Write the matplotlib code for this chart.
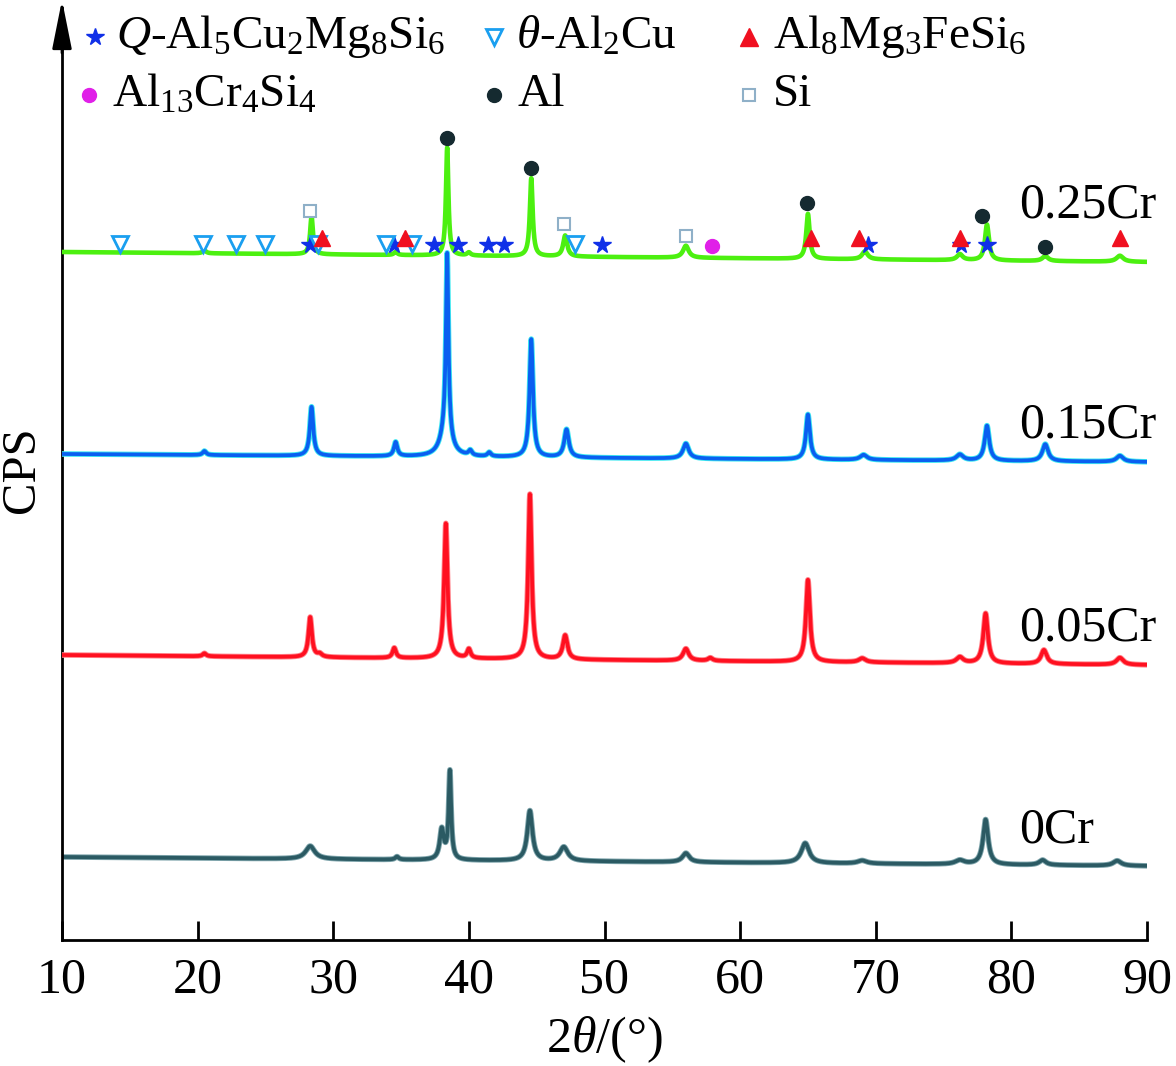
import numpy as np
import matplotlib
matplotlib.use("Agg")
import matplotlib.pyplot as plt

plt.rcParams['font.family'] = ['Liberation Serif', 'DejaVu Serif']
plt.rcParams['mathtext.fontset'] = 'custom'
plt.rcParams['mathtext.rm'] = 'Liberation Serif'
plt.rcParams['mathtext.it'] = 'Liberation Serif:italic'
plt.rcParams['mathtext.fallback'] = 'stix'

# ---------------- data (2theta in degrees, intensity in arbitrary CPS units) ----------------
samples = ['0Cr', '0.05Cr', '0.15Cr', '0.25Cr']
sample_colors = ['#2b5a63', '#ff1020', '#0a5ff0', '#4cf010']
edge_colors = ['#7fa5ac', '#ff8088', '#3fe8f0', '#4cf010']
baseline_left = [83, 285, 486, 688]
baseline_right = [74, 275, 478, 678]

# peaks: (position, height above baseline, FWHM)
peaks_0Cr = [(28.3, 13, 0.8), (34.7, 3, 0.3), (38.0, 30, 0.35), (38.6, 88, 0.22),
             (44.5, 50, 0.45), (47.0, 14, 0.7), (56.0, 9, 0.6), (64.8, 20, 0.7),
             (69.0, 3, 0.8), (76.2, 4, 0.8), (78.1, 45, 0.45), (82.3, 5, 0.6), (87.8, 5, 0.7)]
peaks_005Cr = [(20.5, 3, 0.3), (28.3, 40, 0.3), (29.0, 3, 0.4), (34.5, 10, 0.3),
               (38.3, 135, 0.3), (40.0, 9, 0.3), (44.5, 165, 0.3), (47.1, 24, 0.4),
               (56.0, 12, 0.5), (57.8, 3, 0.4), (65.0, 82, 0.35), (69.0, 4, 0.6),
               (76.2, 6, 0.6), (78.1, 50, 0.4), (82.4, 14, 0.5), (88.0, 7, 0.6)]
peaks_015Cr = [(20.5, 4, 0.3), (28.4, 49, 0.3), (34.6, 14, 0.3), (38.3, 25, 0.9),
               (38.4, 180, 0.22), (40.1, 5, 0.3), (41.5, 4, 0.3), (44.6, 118, 0.3),
               (47.2, 28, 0.4), (56.0, 15, 0.5), (65.0, 45, 0.35), (69.1, 5, 0.6),
               (76.2, 6, 0.6), (78.2, 35, 0.4), (82.5, 17, 0.5), (88.0, 6, 0.6)]
peaks_025Cr = [(20.5, 3, 0.3), (28.4, 38, 0.25), (34.6, 3, 0.3), (38.4, 108, 0.22),
               (40.0, 3, 0.3), (44.6, 78, 0.25), (47.1, 21, 0.35), (56.0, 12, 0.5),
               (65.0, 45, 0.3), (69.2, 8, 0.5), (76.2, 6, 0.5), (78.2, 36, 0.35),
               (82.5, 5, 0.5), (88.0, 6, 0.6)]
all_peaks = [peaks_0Cr, peaks_005Cr, peaks_015Cr, peaks_025Cr]
label_y = [110, 312, 515, 735]

# phase markers on the 0.25Cr pattern: 2theta positions and heights
Q_x = [28.3, 34.5, 37.4, 39.2, 41.4, 42.6, 49.8, 69.4, 76.3, 78.2]
Q_y = [695] * 10
theta_x = [14.3, 20.4, 22.8, 25.0, 28.9, 33.9, 35.8, 47.8]
theta_y = [696] * 8
AlMgFeSi_x = [29.2, 35.3, 65.2, 68.8, 76.2, 88.0]
AlMgFeSi_y = [702] * 6
AlCrSi_x = [57.9]
AlCrSi_y = [694]
Al_x = [38.4, 44.6, 64.9, 77.8, 82.5]
Al_y = [802, 772, 737, 724, 693]
Si_x = [28.3, 47.0, 56.0]
Si_y = [729, 716, 704]

xticks = [10, 20, 30, 40, 50, 60, 70, 80, 90]

# ---------------- figure ----------------
fig = plt.figure(figsize=(11.76, 10.66), dpi=100)
ax = fig.add_axes([62/1176, 126/1066, (1147-62)/1176, (940-8)/1066])
ax.set_xlim(10, 90)
ax.set_ylim(0, 932)

x = np.linspace(10, 90, 8001)
for i, pk in enumerate(all_peaks):
    y = baseline_left[i] + (baseline_right[i] - baseline_left[i]) * (x - 10) / 80.0
    for (p, h, w) in pk:
        g = (w / 2) ** 2
        y = y + h * g / ((x - p) ** 2 + g)
    if edge_colors[i] != sample_colors[i]:
        ax.plot(x, y, color=edge_colors[i], lw=4.0, solid_joinstyle='round', zorder=2 + i)
        ax.plot(x, y, color=sample_colors[i], lw=2.7, solid_joinstyle='round', zorder=2 + i)
    else:
        ax.plot(x, y, color=sample_colors[i], lw=3.3, solid_joinstyle='round', zorder=2 + i)
    ax.text(80.6, label_y[i], samples[i], fontsize=36, va='center', ha='left', zorder=10)

mk = dict(linestyle='none', zorder=20, clip_on=False)
ax.plot(Q_x, Q_y, marker='*', color='#1030e8', ms=13, mec='#1030e8', **mk)
ax.plot(theta_x, theta_y, marker='v', mfc='white', mec='#1a9ff0', mew=2, ms=11, **mk)
ax.plot(AlMgFeSi_x, AlMgFeSi_y, marker='^', color='#f01020', ms=12, **mk)
ax.plot(AlCrSi_x, AlCrSi_y, marker='o', color='#e020e8', ms=10, **mk)
ax.plot(Al_x, Al_y, marker='o', color='#152a30', ms=10, **mk)
ax.plot(Si_x, Si_y, marker='s', mfc='white', mec='#8fb0c8', mew=1.5, ms=9, **mk)

# legend (manual, two rows)
row1, row2 = 903, 845
ax.plot([12.4], [row1], marker='*', color='#1030e8', ms=13, **mk)
ax.text(14.0, row1, r'$\mathit{Q}$-Al$_5$Cu$_2$Mg$_8$Si$_6$', fontsize=34, va='center', ha='left')
ax.plot([41.85], [row1], marker='v', mfc='white', mec='#1a9ff0', mew=2, ms=11, **mk)
ax.text(43.5, row1, r'$\mathit{\theta}$-Al$_2$Cu', fontsize=34, va='center', ha='left')
ax.plot([60.65], [row1], marker='^', color='#f01020', ms=13, **mk)
ax.text(62.4, row1, r'Al$_8$Mg$_3$FeSi$_6$', fontsize=34, va='center', ha='left')
ax.plot([12.0], [row2], marker='o', color='#e020e8', ms=10, **mk)
ax.text(13.7, row2, r'Al$_{13}$Cr$_4$Si$_4$', fontsize=34, va='center', ha='left')
ax.plot([41.85], [row2], marker='o', color='#152a30', ms=10, **mk)
ax.text(43.6, row2, 'Al', fontsize=34, va='center', ha='left')
ax.plot([60.65], [row2], marker='s', mfc='white', mec='#8fb0c8', mew=1.5, ms=9, **mk)
ax.text(62.4, row2, 'Si', fontsize=34, va='center', ha='left')

# axes styling
for s in ['top', 'right']:
    ax.spines[s].set_visible(False)
for s in ['left', 'bottom']:
    ax.spines[s].set_linewidth(2.0)
ax.set_yticks([])
ax.set_xticks(xticks)
ax.tick_params(axis='x', direction='in', length=14, width=2.0, labelsize=36, pad=12)
ax.annotate('', xy=(0, 1.0 + 8/932), xytext=(0, 1.0 - 45/932), xycoords='axes fraction',
            arrowprops=dict(arrowstyle='-|>,head_length=3.0,head_width=0.6', color='black', lw=2.0,
                            shrinkA=0, shrinkB=0), annotation_clip=False)

fig.text(604/1176, 1 - 1040/1066, r'2$\mathit{\theta}$/(°)', fontsize=36, ha='center', va='center')
fig.text(22/1176, 1 - 470/1066, 'CPS', fontsize=35, ha='center', va='center', rotation=90)

fig.savefig('out.png', dpi=100)
